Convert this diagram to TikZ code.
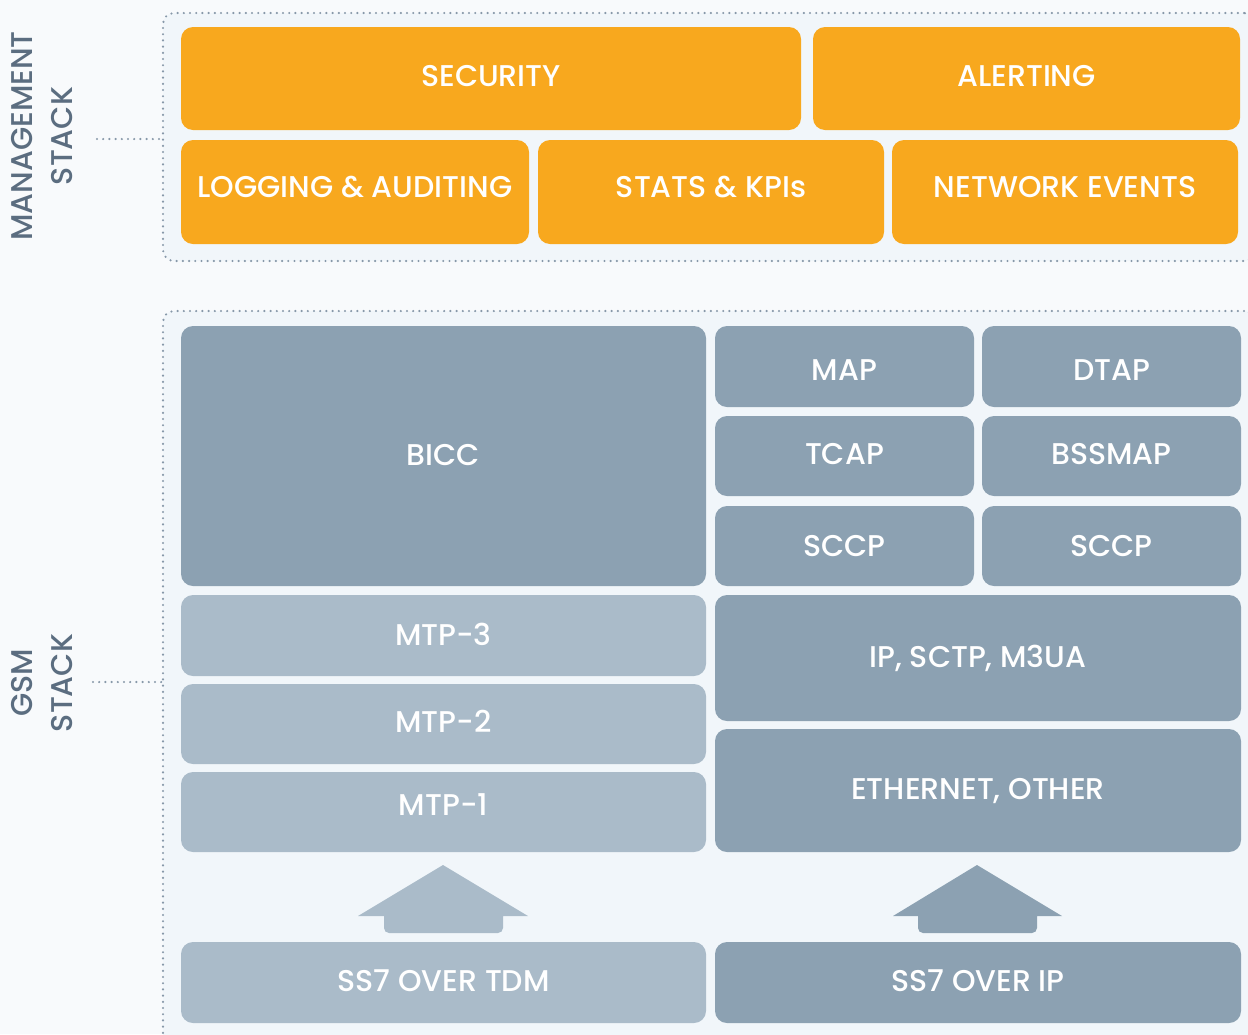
\documentclass[tikz,border=0pt]{standalone}
\usepackage{fontspec}
\setmainfont{Poppins Medium}
\definecolor{orng}{HTML}{F8A81E}
\definecolor{slate}{HTML}{8CA1B2}
\definecolor{lslate}{HTML}{AABBC9}
\definecolor{panel}{HTML}{F1F6FA}
\definecolor{bgc}{HTML}{F8FAFC}
\definecolor{dotc}{HTML}{8798A9}
\definecolor{lblc}{HTML}{5B6D80}
\newcommand{\stackbox}[8][]{%
  \node[box, fill=#3, minimum width={#6-#4}, minimum height={#7-#5}, #1] (#2) at ({(#4+#6)/2},{(#5+#7)/2}) {#8};}
\begin{document}
\begin{tikzpicture}[x=1pt,y=-1pt,
  box/.style={rectangle, rounded corners=12pt, inner sep=0pt, outer sep=0pt, text=white,
    font=\fontsize{30}{34}\selectfont, text height=21pt, text depth=0pt},
  panelbox/.style={rectangle, rounded corners=11pt, inner sep=0pt, outer sep=0pt, fill=panel,
    draw=dotc, line width=2.4pt, line cap=round, dash pattern=on 0pt off 6.2pt},
  dotline/.style={draw=dotc, line width=2.4pt, line cap=round, dash pattern=on 0pt off 6.2pt},
  sidelabel/.style={rotate=90, align=center, text=lblc, inner sep=0pt,
    font=\fontsize{30}{40}\selectfont}
]
\useasboundingbox (0,0) rectangle (1248,1034);
\clip (0,0) rectangle (1248,1034);
\fill[bgc] (0,0) rectangle (1248,1034);

% panels
\node[panelbox, minimum width=1092, minimum height=248] (mgmt) at (709,137) {};
\node[panelbox, minimum width=1092, minimum height=740] (gsm) at (709,681) {};

% side labels
\node[sidelabel] (mlabel) at (42,136) {MANAGEMENT\\STACK};
\node[sidelabel] (glabel) at (42,683) {GSM\\STACK};
\coordinate (mdot) at (97,139);
\coordinate (gdot) at (93,682);
\draw[dotline] (mdot) -- (mgmt.west |- mdot);
\draw[dotline] (gdot) -- (gsm.west |- gdot);

% management boxes
\stackbox[text height=16pt]{sec}{orng}{181}{27}{801}{130}{SECURITY}
\stackbox[text height=16pt]{alert}{orng}{813}{27}{1240}{130}{ALERTING}
\stackbox[text height=11pt]{log}{orng}{181}{140}{529}{244}{LOGGING \& AUDITING}
\stackbox[text height=11pt]{stats}{orng}{538}{140}{884}{244}{STATS \& KPIs}
\stackbox[text height=11pt]{netev}{orng}{892}{140}{1238}{244}{NETWORK EVENTS}

% gsm boxes
\stackbox[text height=19pt]{bicc}{slate}{181}{326}{706}{586}{BICC}
\stackbox[text height=28pt]{map}{slate}{715}{326}{974}{407}{MAP}
\stackbox[text height=28pt]{dtap}{slate}{982}{326}{1241}{407}{DTAP}
\stackbox[text height=17pt]{tcap}{slate}{715}{416}{974}{496}{TCAP}
\stackbox[text height=17pt]{bssmap}{slate}{982}{416}{1241}{496}{BSSMAP}
\stackbox{sccpa}{slate}{715}{506}{974}{586}{SCCP}
\stackbox{sccpb}{slate}{982}{506}{1241}{586}{SCCP}
\stackbox[text height=20pt]{mtpc}{lslate}{181}{595}{706}{676}{MTP-3}
\stackbox[text height=17pt]{mtpb}{lslate}{181}{684}{706}{764}{MTP-2}
\stackbox[text height=7pt]{mtpa}{lslate}{181}{772}{706}{852}{MTP-1}
\stackbox[text height=19pt]{ipsctp}{slate}{715}{595}{1241}{721}{IP, SCTP, M3UA}
\stackbox[text height=18pt]{eth}{slate}{715}{729}{1241}{852}{ETHERNET, OTHER}
\stackbox[text height=18pt]{tdm}{lslate}{181}{942}{706}{1023}{SS7 OVER TDM}
\stackbox[text height=18pt]{ssip}{slate}{715}{942}{1241}{1023}{SS7 OVER IP}

% up arrows
\fill[lslate] (443,865) -- (528,916) -- (503,916) [rounded corners=5pt] -- (503,933) -- (384,933) [sharp corners] -- (384,916) -- (358,916) -- cycle;
\fill[slate] (977,865) -- (1062,916) -- (1037,916) [rounded corners=5pt] -- (1037,933) -- (918,933) [sharp corners] -- (918,916) -- (893,916) -- cycle;
\end{tikzpicture}
\end{document}
